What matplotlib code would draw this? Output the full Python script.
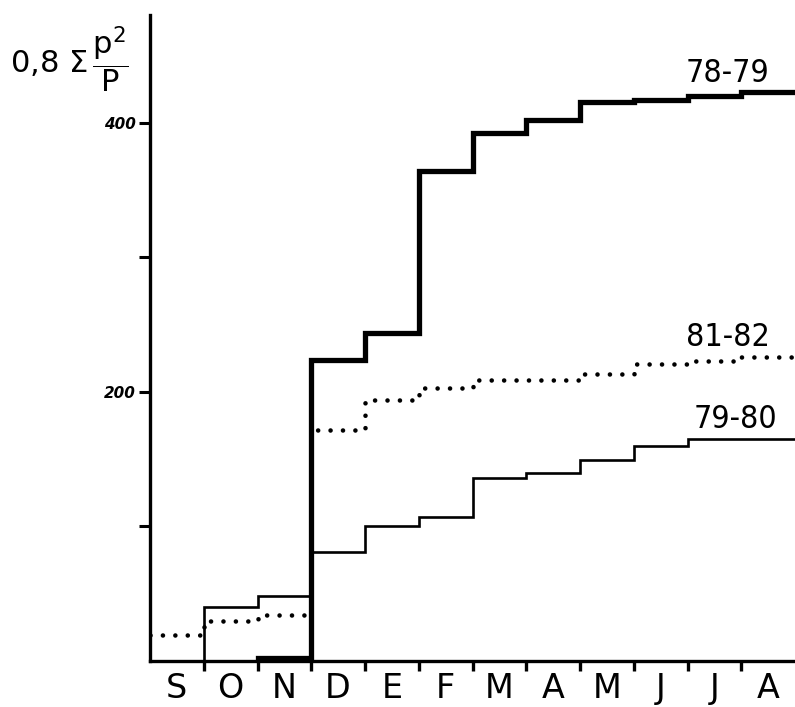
import numpy as np
import matplotlib
matplotlib.use('Agg')
import matplotlib.pyplot as plt
from matplotlib import font_manager

# months Sept -> Aug
months = ['S', 'O', 'N', 'D', 'E', 'F', 'M', 'A', 'M', 'J', 'J', 'A']

# cumulative 0,8 * sum(p^2/P), one value per month
s7879 = [np.nan, np.nan, 2, 224, 244, 364, 392, 402, 415, 417, 420, 423]
s7980 = [0, 40, 48, 81, 100, 107, 136, 140, 149, 160, 165, 165]
s8182 = [19, 30, 34, 172, 194, 203, 209, 209, 213, 221, 223, 226]

plt.rcParams['mathtext.fontset'] = 'dejavusans'

# narrow lettering for the series labels if some condensed face is around
names = {f.name for f in font_manager.fontManager.ttflist}
narrow = None
for cand in ['Liberation Sans Narrow', 'DejaVu Sans Condensed']:
    if cand in names:
        narrow = cand
        break

fig = plt.figure(figsize=(7.95, 7.07), dpi=100)
ax = fig.add_axes([150 / 795, 1 - 661 / 707, 1 - 150 / 795, (661 - 15) / 707])

edges = np.arange(13)


def stair(vals, **kw):
    y = list(vals) + [vals[-1]]
    ax.step(edges, y, where='post', **kw)


stair(s7980, color='black', lw=1.9, solid_joinstyle='miter')
stair(s8182, color='black', lw=3.3, linestyle=(0, (0.01, 2.7)),
      dash_capstyle='round')
stair(s7879, color='black', lw=3.8, solid_joinstyle='miter')

# series labels
if narrow:
    lab_font = dict(family=narrow, fontsize=23, ha='center', va='bottom')
else:
    lab_font = dict(family='DejaVu Sans', fontstretch='condensed', fontsize=23,
                    ha='center', va='bottom')
ax.text(10.75, s7879[-1] + 2, '78-79', **lab_font)
ax.text(10.75, s8182[-1] + 3, '81-82', **lab_font)
ax.text(10.9, s7980[-1] + 3, '79-80', **lab_font)

ax.set_xlim(0, 12)
ax.set_ylim(0, 480)

for side in ['top', 'right']:
    ax.spines[side].set_visible(False)
ax.spines['left'].set_linewidth(2.4)
ax.spines['bottom'].set_linewidth(2.4)

# month boundaries as ticks, letters centred between them
ax.set_xticks(np.arange(1, 12))
ax.set_xticklabels([])
ax.set_xticks(np.arange(12) + 0.5, minor=True)
ax.set_xticklabels(months, minor=True, fontsize=24)
ax.tick_params(axis='x', which='major', direction='out', length=7, width=2.4)
ax.tick_params(axis='x', which='minor', length=0, pad=8)

ax.set_yticks([100, 200, 300, 400])
ax.set_yticklabels(['', '200', '', '400'], fontsize=11, fontweight='bold',
                   style='italic')
ax.tick_params(axis='y', direction='out', length=8, width=2.2, pad=2)

fig.text(10 / 795, 1 - 60 / 707,
         r'$0{,}8\ \Sigma\,\dfrac{\mathrm{p}^2}{\mathrm{P}}$',
         fontsize=22, ha='left', va='center')

fig.savefig('out.png', dpi=100)
